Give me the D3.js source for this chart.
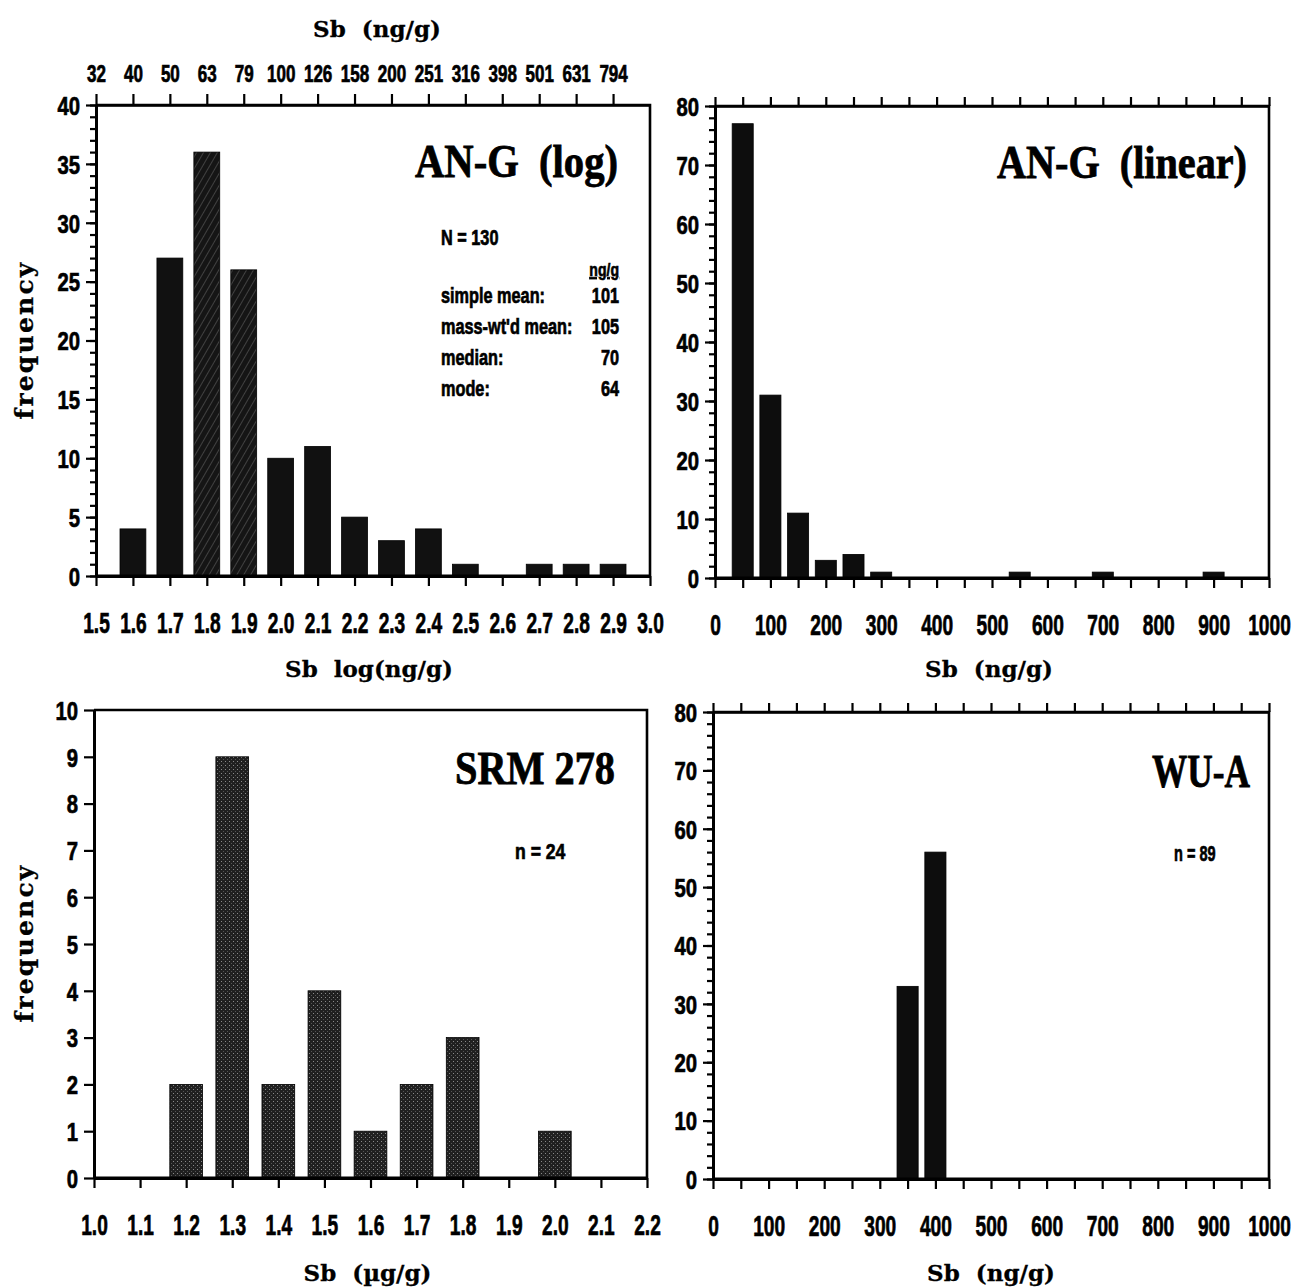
<!DOCTYPE html>
<html>
<head>
<meta charset="utf-8">
<script src="https://cdn.jsdelivr.net/npm/d3@7"></script>
<style>
  html, body { margin: 0; padding: 0; background: #fff; }
  svg { display: block; }
  .num { font-family: 'Liberation Sans', Arial, sans-serif; font-weight: bold; fill: #000; stroke: #000; stroke-width: 0.7px; }
  .axt { font-family: 'DejaVu Serif', serif; font-weight: bold; fill: #000; white-space: pre; stroke: #000; stroke-width: 0.3px; }
  .big { font-family: 'Liberation Serif', serif; font-weight: bold; fill: #000; white-space: pre; stroke: #000; stroke-width: 0.8px; }
</style>
</head>
<body>
<svg id="chart" width="1293" height="1287"></svg>
<script>
// AN-G, log(ng/g) bins
const angLogBins   = [1.5, 1.6, 1.7, 1.8, 1.9, 2.0, 2.1, 2.2, 2.3, 2.4, 2.5, 2.6, 2.7, 2.8, 2.9];
const angLogCounts = [0, 4, 27, 36, 26, 10, 11, 5, 3, 4, 1, 0, 1, 1, 1];
const angLogTicks  = [1.5, 1.6, 1.7, 1.8, 1.9, 2.0, 2.1, 2.2, 2.3, 2.4, 2.5, 2.6, 2.7, 2.8, 2.9, 3.0];
const angLogTopLabels = ["32", "40", "50", "63", "79", "100", "126", "158", "200", "251", "316", "398", "501", "631", "794"];

// AN-G, linear ng/g bins
const angLinBins   = [50, 100, 150, 200, 250, 300, 550, 700, 900];
const angLinCounts = [77, 31, 11, 3, 4, 1, 1, 1, 1];

// SRM 278, µg/g bins
const srmBins   = [1.2, 1.3, 1.4, 1.5, 1.6, 1.7, 1.8, 2.0];
const srmCounts = [2, 9, 2, 4, 1, 2, 3, 1];
const srmTicks  = [1.0, 1.1, 1.2, 1.3, 1.4, 1.5, 1.6, 1.7, 1.8, 1.9, 2.0, 2.1, 2.2];

// WU-A, ng/g bins
const wuaBins   = [350, 400];
const wuaCounts = [33, 56];

// AN-G summary statistics (ng/g)
const angN = 130;
const statLabels = ["simple mean:", "mass-wt'd mean:", "median:", "mode:"];
const statValues = [101, 105, 70, 64];
const srmN = 24;
const wuaN = 89;

const svg = d3.select("#chart");

// fill patterns: hatched dark bars and stippled grey bars
const defs = svg.append("defs");
const hatch = defs.append("pattern").attr("id", "hatch").attr("patternUnits", "userSpaceOnUse")
  .attr("width", 6).attr("height", 6).attr("patternTransform", "rotate(30)");
hatch.append("rect").attr("width", 6).attr("height", 6).attr("fill", "#151515");
hatch.append("line").attr("x1", 0).attr("y1", 0).attr("x2", 0).attr("y2", 6)
  .attr("stroke", "#666").attr("stroke-width", 1.1);
const stip = defs.append("pattern").attr("id", "stip").attr("patternUnits", "userSpaceOnUse")
  .attr("width", 4).attr("height", 4);
stip.append("rect").attr("width", 4).attr("height", 4).attr("fill", "#202020");
stip.append("rect").attr("x", 1).attr("y", 1).attr("width", 1).attr("height", 1).attr("fill", "#8a8a8a");
stip.append("rect").attr("x", 3).attr("y", 3).attr("width", 1).attr("height", 1).attr("fill", "#555");

// condensed numeric text: horizontally squeezed bold sans
function narrow(parent, x, y, str, size, sx, anchor) {
  return parent.append("g").attr("transform", `translate(${x},${y}) scale(${sx},1)`)
    .append("text").attr("class", "num").attr("font-size", size)
    .attr("text-anchor", anchor || "start").text(str);
}

function styleAxis(g, lineW) {
  g.select(".domain").attr("stroke", "#000").attr("stroke-width", lineW);
  g.selectAll(".tick line").attr("stroke", "#000").attr("stroke-width", 2.2);
}

function drawPanel(cfg) {
  const g = svg.append("g");
  const x = d3.scaleLinear().domain(cfg.xDomain).range([cfg.left, cfg.right]);
  const y = d3.scaleLinear().domain(cfg.yDomain).range([cfg.bottom, cfg.top]);

  // bars
  const rows = d3.zip(cfg.bins, cfg.counts).filter(d => d[1] > 0);
  g.selectAll("rect.bar").data(rows).join("rect")
    .attr("class", "bar")
    .attr("x", d => x(d[0] - cfg.barW / 2))
    .attr("width", d => x(d[0] + cfg.barW / 2) - x(d[0] - cfg.barW / 2))
    .attr("y", d => y(d[1]))
    .attr("height", d => y(0) - y(d[1]))
    .attr("fill", d => cfg.fill(d[0]))
    .attr("stroke", "#000").attr("stroke-width", 0.8);

  // frame: top and right edges
  g.append("path")
    .attr("d", `M${cfg.left},${cfg.top}H${cfg.right}V${cfg.bottom}`)
    .attr("fill", "none").attr("stroke", "#000").attr("stroke-width", 2.6);

  // bottom axis
  const bx = g.append("g").attr("transform", `translate(0,${cfg.bottom})`)
    .call(d3.axisBottom(x).tickValues(cfg.xTicks).tickSizeInner(10).tickSizeOuter(0)
      .tickFormat(cfg.xFormat));
  styleAxis(bx, 3);
  bx.selectAll(".tick text").attr("class", "num").attr("y", 57).attr("dy", 0)
    .attr("font-size", 29).attr("transform", "scale(0.66,1)");

  // top ticks
  if (cfg.topTicks) {
    const tx = g.append("g").attr("transform", `translate(0,${cfg.top})`)
      .call(d3.axisTop(x).tickValues(cfg.topTicks).tickSizeInner(cfg.topTickSize || 10).tickSizeOuter(0)
        .tickFormat(cfg.topFormat || (() => "")));
    styleAxis(tx, 2.6);
    tx.selectAll(".tick text").attr("class", "num").attr("y", -23).attr("dy", 0)
      .attr("font-size", 23).attr("transform", "scale(0.74,1)");
  }

  // left axis: minor then major ticks
  if (cfg.yMinor) {
    const my = g.append("g").attr("transform", `translate(${cfg.left},0)`)
      .call(d3.axisLeft(y).tickValues(cfg.yMinor).tickSizeInner(6).tickSizeOuter(0).tickFormat(() => ""));
    styleAxis(my, 3);
  }
  const ly = g.append("g").attr("transform", `translate(${cfg.left},0)`)
    .call(d3.axisLeft(y).tickValues(cfg.yMajor).tickSizeInner(10).tickSizeOuter(0));
  styleAxis(ly, 3);
  const ys = 0.78;
  ly.selectAll(".tick text").attr("class", "num").attr("x", -16 / ys).attr("dy", "0.36em")
    .attr("font-size", 26).attr("transform", `scale(${ys},1)`);

  // baseline through empty bins
  g.append("line").attr("x1", cfg.left).attr("x2", cfg.right)
    .attr("y1", y(0)).attr("y2", y(0)).attr("stroke", "#000").attr("stroke-width", 3);

  // panel title
  g.append("text").attr("class", "big")
    .attr("x", cfg.titleX).attr("y", cfg.titleY)
    .attr("text-anchor", "end").attr("font-size", 46)
    .attr("textLength", cfg.titleLen).attr("lengthAdjust", "spacingAndGlyphs")
    .text(cfg.title);

  // x axis title
  g.append("text").attr("class", "axt")
    .attr("x", (cfg.left + cfg.right) / 2 + (cfg.xTitleShift || 0)).attr("y", cfg.xTitleY)
    .attr("text-anchor", "middle").attr("font-size", 23)
    .text(cfg.xTitle);

  return { g, x, y };
}

const fmt1 = d3.format(".1f");
const hatched = new Set([1.8, 1.9]);

// top-left: AN-G on log scale
const tl = drawPanel({
  left: 96, right: 650, top: 105, bottom: 576,
  xDomain: [1.5, 3.0], yDomain: [0, 40],
  bins: angLogBins, counts: angLogCounts, barW: 0.07,
  fill: b => hatched.has(b) ? "url(#hatch)" : "#111",
  xTicks: angLogTicks, xFormat: fmt1,
  topTicks: angLogTicks.slice(0, angLogTopLabels.length),
  topFormat: (d, i) => angLogTopLabels[i], topTickSize: 11,
  yMajor: d3.range(0, 41, 5), yMinor: d3.range(0, 41, 1),
  title: "AN-G  (log)", titleX: 618, titleY: 177, titleLen: 203,
  xTitle: "Sb  log(ng/g)", xTitleY: 677, xTitleShift: -4
});
tl.g.append("text").attr("class", "axt")
  .attr("x", 377).attr("y", 37).attr("text-anchor", "middle").attr("font-size", 23)
  .text("Sb  (ng/g)");

// summary statistics box
const sx = 0.74;
narrow(tl.g, 441, 245, `N = ${angN}`, 22, sx);
narrow(tl.g, 619, 276, "ng/g", 19, sx, "end").attr("text-decoration", "underline");
statLabels.forEach((s, i) => narrow(tl.g, 441, 303 + i * 31, s, 22, sx));
statValues.forEach((v, i) => narrow(tl.g, 619, 303 + i * 31, v, 22, sx, "end"));

// top-right: AN-G on linear scale
const linTicks = d3.range(0, 1001, 50);
const hundreds = d => (d % 100 === 0 ? d : "");
drawPanel({
  left: 715, right: 1269, top: 106, bottom: 578,
  xDomain: [0, 1000], yDomain: [0, 80],
  bins: angLinBins, counts: angLinCounts, barW: 38,
  fill: () => "#0d0d0d",
  xTicks: linTicks, xFormat: hundreds,
  topTicks: linTicks, topTickSize: 9,
  yMajor: d3.range(0, 81, 10), yMinor: d3.range(0, 81, 2),
  title: "AN-G  (linear)", titleX: 1247, titleY: 178, titleLen: 250,
  xTitle: "Sb  (ng/g)", xTitleY: 677, xTitleShift: -3
});

// bottom-left: SRM 278
const bl = drawPanel({
  left: 94, right: 647, top: 710, bottom: 1178,
  xDomain: [1.0, 2.2], yDomain: [0, 10],
  bins: srmBins, counts: srmCounts, barW: 0.071,
  fill: () => "url(#stip)",
  xTicks: srmTicks, xFormat: fmt1,
  yMajor: d3.range(0, 11, 1),
  title: "SRM 278", titleX: 615, titleY: 784, titleLen: 160,
  xTitle: "Sb  (µg/g)", xTitleY: 1281, xTitleShift: -3
});
narrow(bl.g, 515, 859, `n = ${srmN}`, 22, 0.8);

// bottom-right: WU-A
const br = drawPanel({
  left: 713, right: 1269, top: 712, bottom: 1179,
  xDomain: [0, 1000], yDomain: [0, 80],
  bins: wuaBins, counts: wuaCounts, barW: 38,
  fill: () => "#0d0d0d",
  xTicks: linTicks, xFormat: hundreds,
  topTicks: linTicks, topTickSize: 9,
  yMajor: d3.range(0, 81, 10), yMinor: d3.range(0, 81, 2),
  title: "WU-A", titleX: 1250, titleY: 787, titleLen: 98,
  xTitle: "Sb  (ng/g)", xTitleY: 1281, xTitleShift: 0
});
narrow(br.g, 1174, 861, `n = ${wuaN}`, 22, 0.66);

// shared y axis titles
[340, 943].forEach(cy => {
  svg.append("text").attr("class", "axt")
    .attr("transform", `translate(33,${cy}) rotate(-90)`)
    .attr("text-anchor", "middle").attr("font-size", 25).attr("letter-spacing", 2.2)
    .text("frequency");
});
</script>
</body>
</html>
